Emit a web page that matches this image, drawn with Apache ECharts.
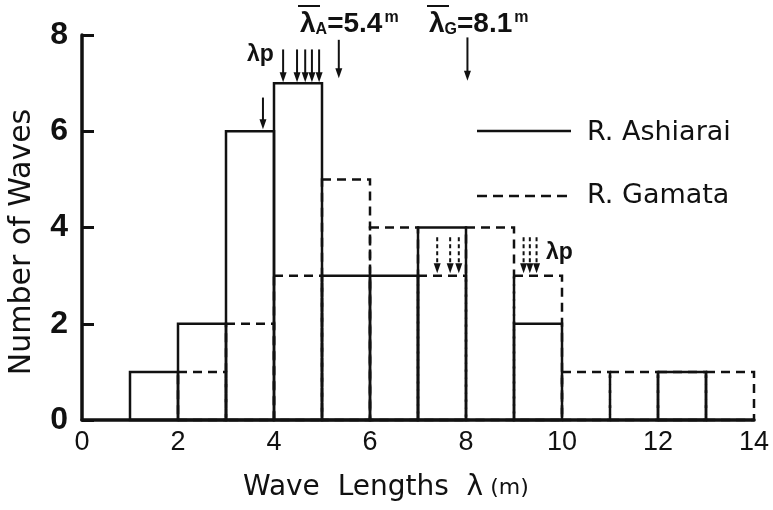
<!DOCTYPE html>
<html>
<head>
<meta charset="utf-8">
<script src="https://cdn.jsdelivr.net/npm/echarts@6/dist/echarts.min.js"></script>
<style>
  html, body { margin: 0; padding: 0; background: #fff; }
  #main { width: 773px; height: 510px; }
</style>
</head>
<body>
<div id="main"></div>
<script>
    // histogram bins, 1 m wide, starting at these wave lengths
    var binLeft = [1, 2, 3, 4, 5, 6, 7, 8, 9, 10, 11, 12, 13];
    var ashiarai = [1, 2, 6, 7, 3, 3, 4, 0, 2, 0, 0, 1, 0];
    var gamata   = [0, 1, 2, 3, 5, 4, 3, 4, 3, 1, 1, 1, 1];

    // arrows: [x, tail y, tip y]
    var solidArrows = [[3.77, 6.7, 6.04], [4.19, 7.7, 7.02], [4.48, 7.7, 7.02], [4.65, 7.7, 7.02],
                       [4.79, 7.7, 7.02], [4.94, 7.7, 7.02], [5.35, 7.9, 7.1], [8.03, 7.95, 7.05]];
    var dashedArrows = [[7.4, 3.8, 3.05], [7.67, 3.8, 3.05], [7.85, 3.8, 3.05],
                        [9.2, 3.8, 3.05], [9.33, 3.8, 3.05], [9.47, 3.8, 3.05]];

    var xTicks = [0, 2, 4, 6, 8, 10, 12, 14];
    var yTicks = [0, 2, 4, 6, 8];

    var FONT = 'Liberation Sans';
    var WIDE = 'DejaVu Sans';
    var INK = '#111';

    function toData(vals) {
        var out = [];
        for (var i = 0; i < binLeft.length; i++) out.push([binLeft[i], vals[i]]);
        return out;
    }

    function barRender(dashed) {
        return function (params, api) {
            var x0 = api.value(0), v = api.value(1);
            if (!v) return null;
            var p0 = api.coord([x0, v]);
            var p1 = api.coord([x0 + 1, 0]);
            return {
                type: 'rect',
                shape: { x: p0[0], y: p0[1], width: p1[0] - p0[0], height: p1[1] - p0[1] },
                style: { fill: 'none', stroke: INK, lineWidth: 2.5, lineDash: dashed ? [9, 6] : null }
            };
        };
    }

    function arrowRender(dashed) {
        return function (params, api) {
            var a = api.coord([api.value(0), api.value(1)]);
            var b = api.coord([api.value(0), api.value(2)]);
            return {
                type: 'group',
                children: [
                    { type: 'line', shape: { x1: a[0], y1: a[1], x2: b[0], y2: b[1] - 6 },
                      style: { stroke: INK, lineWidth: 2, lineDash: dashed ? [4, 3] : null } },
                    { type: 'polygon', shape: { points: [[b[0] - 3.5, b[1] - 10], [b[0] + 3.5, b[1] - 10], [b[0], b[1]]] },
                      style: { fill: INK } }
                ]
            };
        };
    }

    var meanRich = {
        l: { fontFamily: FONT, fontSize: 28, fontWeight: 'bold', fill: INK },
        s: { fontFamily: FONT, fontSize: 16, fontWeight: 'bold', fill: INK, padding: [12, 0, 0, 0] },
        m: { fontFamily: FONT, fontSize: 16, fontWeight: 'bold', fill: INK, padding: [0, 0, 12, 2] }
    };

    var myChart = echarts.init(document.getElementById('main'));
    var option = {
        animation: false,
        backgroundColor: '#fff',
        grid: { left: 82, right: 19, top: 35, bottom: 90 },
        xAxis: {
            type: 'value', min: xTicks[0], max: xTicks[xTicks.length - 1], interval: 2,
            axisLine: { lineStyle: { color: INK, width: 3.5 } },
            axisTick: { show: false },
            splitLine: { show: false },
            axisLabel: { fontFamily: FONT, fontSize: 27, color: INK, margin: 9 }
        },
        yAxis: {
            type: 'value', min: yTicks[0], max: yTicks[yTicks.length - 1], interval: 2,
            axisLine: { show: true, lineStyle: { color: INK, width: 3.5 } },
            axisTick: { show: true, inside: true, length: 12, lineStyle: { color: INK, width: 3 } },
            splitLine: { show: false },
            axisLabel: { fontFamily: FONT, fontSize: 32, fontWeight: 'bold', color: INK, margin: 14 }
        },
        series: [
            { type: 'custom', name: 'R. Gamata', renderItem: barRender(true), data: toData(gamata), encode: { x: 0, y: 1 }, z: 2 },
            { type: 'custom', name: 'R. Ashiarai', renderItem: barRender(false), data: toData(ashiarai), encode: { x: 0, y: 1 }, z: 3 },
            { type: 'custom', renderItem: arrowRender(false), data: solidArrows, encode: { x: 0, y: [1, 2] }, z: 4 },
            { type: 'custom', renderItem: arrowRender(true), data: dashedArrows, encode: { x: 0, y: [1, 2] }, z: 4 }
        ],
        graphic: [
            // axis titles
            { type: 'text', x: 22, y: 242, rotation: Math.PI / 2,
              style: { text: 'Number of Waves', font: '30px ' + WIDE, fill: INK, align: 'center', verticalAlign: 'middle' } },
            { type: 'text', x: 243, y: 488,
              style: { text: '{a|Wave  Lengths  λ}{b| (m)}', fill: INK, verticalAlign: 'middle',
                       rich: { a: { fontFamily: WIDE, fontSize: 28, fill: INK }, b: { fontFamily: WIDE, fontSize: 22, fill: INK } } } },
            // legend
            { type: 'line', shape: { x1: 477, y1: 131, x2: 571, y2: 131 }, style: { stroke: INK, lineWidth: 2.5 } },
            { type: 'text', x: 587, y: 133, style: { text: 'R. Ashiarai', font: '27px ' + WIDE, fill: INK, verticalAlign: 'middle' } },
            { type: 'line', shape: { x1: 477, y1: 196, x2: 571, y2: 196 }, style: { stroke: INK, lineWidth: 2.5, lineDash: [10, 6] } },
            { type: 'text', x: 587, y: 196, style: { text: 'R. Gamata', font: '27px ' + WIDE, fill: INK, verticalAlign: 'middle' } },
            // peak labels
            { type: 'text', x: 247, y: 55, style: { text: 'λp', font: 'bold 23px ' + FONT, fill: INK, verticalAlign: 'middle' } },
            { type: 'text', x: 546, y: 253, style: { text: 'λp', font: 'bold 23px ' + FONT, fill: INK, verticalAlign: 'middle' } },
            // mean labels
            { type: 'line', shape: { x1: 298, y1: 6, x2: 320, y2: 6 }, style: { stroke: INK, lineWidth: 2 } },
            { type: 'text', x: 300, y: 24, style: { text: '{l|λ}{s|A}{l|=5.4}{m|m}', verticalAlign: 'middle', rich: meanRich } },
            { type: 'line', shape: { x1: 427, y1: 6, x2: 449, y2: 6 }, style: { stroke: INK, lineWidth: 2 } },
            { type: 'text', x: 429, y: 24, style: { text: '{l|λ}{s|G}{l|=8.1}{m|m}', verticalAlign: 'middle', rich: meanRich } }
        ]
    };
    myChart.setOption(option, true);
</script>
</body>
</html>
